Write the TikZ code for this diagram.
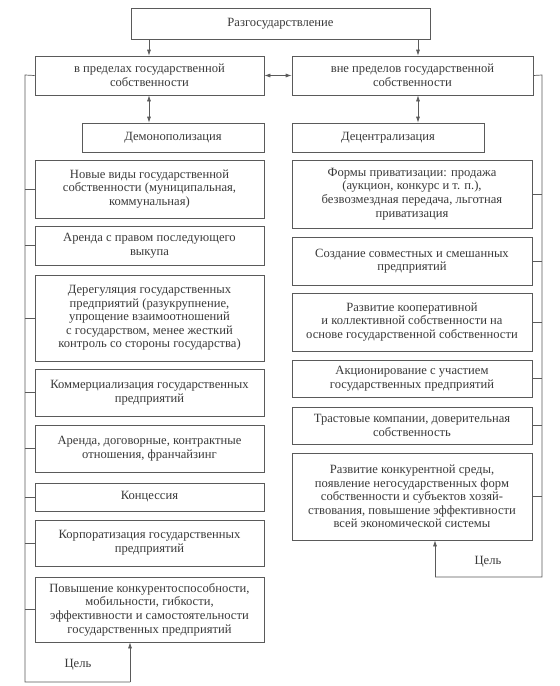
\documentclass[tikz,border=0pt]{standalone}
\usepackage{fontspec}
\setmainfont{Liberation Serif}
\usetikzlibrary{arrows.meta}
\definecolor{linec}{HTML}{5A5A5A}
\definecolor{textc}{HTML}{3A3A3A}
\tikzset{
  box/.style={draw=linec, line width=0.7pt, text=textc, align=center, inner sep=0pt, font=\fontsize{12.6}{13.6}\selectfont},
  conn/.style={draw=linec, line width=0.7pt},
  arr/.style={conn, -{Latex[length=6pt,width=4pt]}},
  darr/.style={conn, {Latex[length=6pt,width=4pt]}-{Latex[length=6pt,width=4pt]}},
  lbl/.style={text=textc, font=\fontsize{12.6}{13.6}\selectfont, inner sep=0pt}
}
\newcommand\mybox[6]{%
  \pgfmathsetmacro\bxcx{(#2+#4)/2}%
  \pgfmathsetmacro\bxcy{(#3+#5)/2}%
  \pgfmathsetmacro\bxw{#4-#2}%
  \pgfmathsetmacro\bxh{#5-#3}%
  \node[box, minimum width=\bxw pt, minimum height=\bxh pt] (#1) at (\bxcx,\bxcy) {#6};}
\begin{document}
\begin{tikzpicture}[x=1pt,y=-1pt]
\useasboundingbox[fill=white] (0,0) rectangle (560,686);
% top
\mybox{top}{131}{8}{430}{39}{Разгосударствление}
\mybox{L0}{35}{56}{264}{95}{в пределах государственной\\собственности}
\mybox{R0}{292}{56}{533}{95}{вне пределов государственной\\собственности}
\mybox{LD}{82}{123}{264}{152}{Демонополизация}
\mybox{RD}{292}{123}{484}{152}{Децентрализация}
% left column
\mybox{L1}{35}{160}{264}{218}{Новые виды государственной\\собственности (муниципальная,\\коммунальная)}
\mybox{L2}{35}{226}{264}{265}{Аренда с правом последующего\\выкупа}
\mybox{L3}{35}{275}{264}{361}{Дерегуляция государственных\\предприятий (разукрупнение,\\упрощение взаимоотношений\\с государством, менее жесткий\\контроль со стороны государства)}
\mybox{L4}{35}{369}{264}{416}{Коммерциализация государственных\\предприятий}
\mybox{L5}{35}{425}{264}{472}{Аренда, договорные, контрактные\\отношения, франчайзинг}
\mybox{L6}{35}{483}{264}{511}{Концессия}
\mybox{L7}{35}{520}{264}{566}{Корпоратизация государственных\\предприятий}
\mybox{L8}{35}{577}{264}{642}{Повышение конкурентоспособности,\\мобильности, гибкости,\\эффективности и самостоятельности\\государственных предприятий}
% right column
\mybox{R1}{292}{160}{532}{228}{Формы приватизации: продажа\\(аукцион, конкурс и т. п.),\\безвозмездная передача, льготная\\приватизация}
\mybox{R2}{292}{237}{532}{285}{Создание совместных и смешанных\\предприятий}
\mybox{R3}{292}{293}{532}{351}{Развитие кооперативной\\и коллективной собственности на\\основе государственной собственности}
\mybox{R4}{292}{360}{532}{397}{Акционирование с участием\\государственных предприятий}
\mybox{R5}{292}{407}{532}{444}{Трастовые компании, доверительная\\собственность}
\mybox{R6}{292}{453}{532}{540}{Развитие конкурентной среды,\\появление негосударственных форм\\собственности и субъектов хозяй-\\ствования, повышение эффективности\\всей экономической системы}
% coordinates
\coordinate (lt) at (25,75);
\coordinate (lb) at (25,682);
\coordinate (lg) at (130,682);
\coordinate (rt) at (542,75);
\coordinate (rb) at (542,577);
\coordinate (rg) at (435,577);
% arrows from top
\draw[arr] (top.south -| 149,0) -- (149,0 |- L0.north);
\draw[arr] (top.south -| 418,0) -- (418,0 |- R0.north);
\draw[darr] (L0.east) -- (R0.west);
\draw[darr] (L0.south -| 149,0) -- (LD.north -| 149,0);
\draw[darr] (R0.south -| 418,0) -- (RD.north -| 418,0);
% side lines
\draw[conn] (L0.west) -- (lt) -- (lb) -- (lg);
\draw[arr] (lg) -- (lg |- L8.south);
\draw[conn] (R0.east) -- (rt) -- (rb) -- (rg);
\draw[arr] (rg) -- (rg |- R6.south);
\foreach \n in {L1,L2,L3,L4,L5,L6,L7,L8} \draw[conn] (\n.west) -- (\n.west -| lt);
\foreach \n in {R1,R2,R3,R4,R5,R6} \draw[conn] (\n.east) -- (\n.east -| rt);
\node[lbl] (cl) at (78,665) {Цель};
\node[lbl] (cr) at (488,562) {Цель};
\end{tikzpicture}
\end{document}
